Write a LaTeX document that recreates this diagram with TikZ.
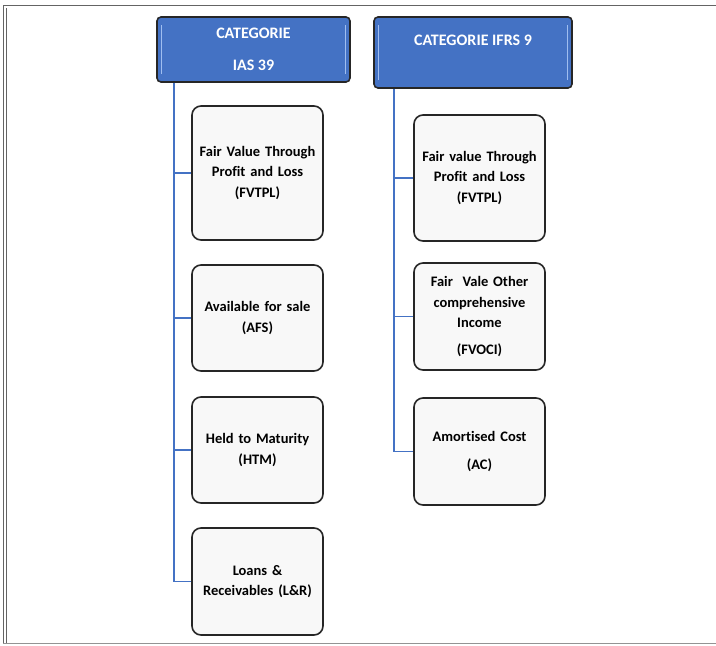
\documentclass[tikz,border=0pt]{standalone}
\usepackage{fontspec}
\setmainfont[Ligatures=NoCommon]{Carlito}
\definecolor{hdrblue}{RGB}{68,114,196}
\definecolor{hdredge}{RGB}{160,190,240}
\definecolor{boxgray}{RGB}{248,248,248}
\definecolor{framegray}{RGB}{100,100,100}

\begin{document}
\begin{tikzpicture}[x=1pt,y=-1pt,
    header/.style={draw=black!85,line width=1.6pt,fill=hdrblue,rounded corners=4pt,
        text=white,font=\fontsize{16}{20}\selectfont\bfseries,align=center,
        inner sep=0pt},
    catbox/.style={draw=black!85,line width=1.6pt,fill=boxgray,rounded corners=9pt,
        minimum width=131pt,text width=127pt,align=center,inner sep=0pt,
        font=\fontsize{14.5}{20.5}\selectfont\bfseries},
    trunk/.style={hdrblue,line width=1.8pt}]

 \useasboundingbox (0,0) rectangle (716,646);
 % frame
 \draw[framegray,line width=0.8pt] (3,643) -- (3,5) -- (716,5);
 \draw[framegray,line width=0.8pt] (6,643) -- (6,8);
 \draw[framegray!70,line width=1pt] (3,643) -- (716,643);

 % headers
 \node[header,minimum width=193pt,minimum height=65pt] (ias) at (253.5,49.5) {CATEGORIE\\[12pt]IAS 39};
 \node[header,minimum width=198pt,minimum height=71pt] (ifrs) at (473,52.5) {CATEGORIE IFRS 9\\[4pt]\mbox{}};
 \foreach \h in {ias,ifrs}{
   \draw[hdredge,line width=1.2pt] ([shift={(5,9)}]\h.north west) -- ([shift={(5,-9)}]\h.south west);
   \draw[hdredge,line width=1.2pt] ([shift={(-5,9)}]\h.north east) -- ([shift={(-5,-9)}]\h.south east);
 }

 % IAS 39 column
 \node[catbox,minimum height=134pt] (iasfv) at (257.5,173) {Fair Value Through\\Profit and Loss\\(FVTPL)};
 \node[catbox,minimum height=106pt] (afs) at (257.5,318) {Available for sale\\(AFS)};
 \node[catbox,minimum height=106pt] (htm) at (257.5,450) {Held to Maturity\\(HTM)};
 \node[catbox,minimum height=107pt] (lr) at (257.5,581.5) {Loans \&\\Receivables (L\&R)};

 % IFRS 9 column
 \node[catbox,minimum height=126pt] (ifrsfv) at (479.5,178) {Fair value Through\\Profit and Loss\\(FVTPL)};
 \node[catbox,minimum height=107pt] (fvoci) at (479.5,316.5) {Fair\ \ Vale Other\\comprehensive\\Income\\[6pt](FVOCI)};
 \node[catbox,minimum height=107pt] (ac) at (479.5,451.5) {Amortised Cost\\[8pt](AC)};

 % connectors
 \coordinate (iastop) at ([xshift=18pt]ias.south west);
 \coordinate (ifrstop) at ([xshift=21pt]ifrs.south west);
 \draw[trunk] (iastop) |- (lr.west);
 \foreach \b in {iasfv,afs,htm}
   \draw[trunk] (iastop |- \b.west) -- (\b.west);
 \draw[trunk] (ifrstop) |- (ac.west);
 \foreach \b in {ifrsfv,fvoci}
   \draw[trunk] (ifrstop |- \b.west) -- (\b.west);
\end{tikzpicture}
\end{document}
